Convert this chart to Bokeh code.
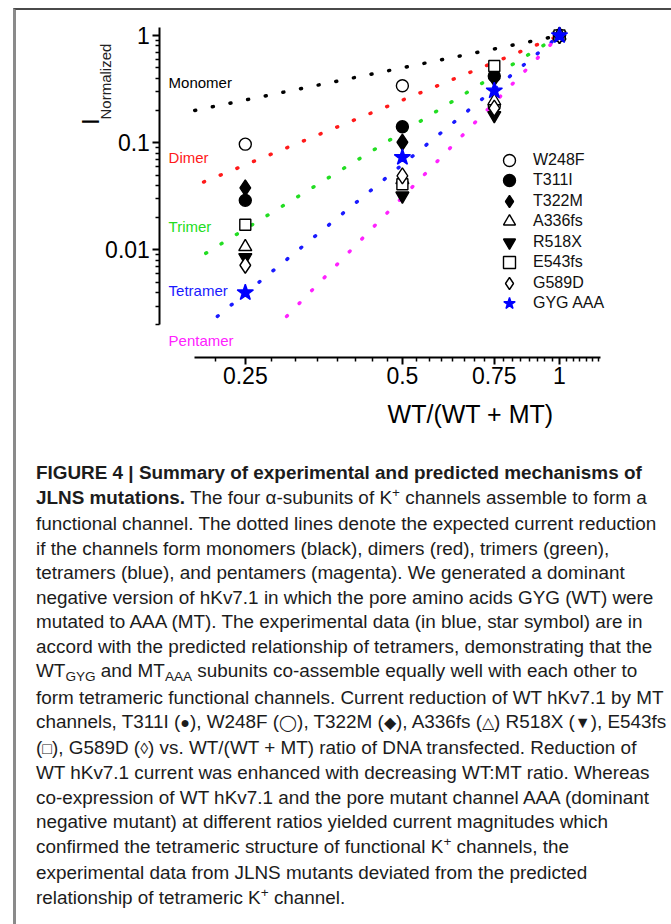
import math
from bokeh.plotting import figure
from bokeh.models import Range1d, FixedTicker, Label, Legend, LegendItem, Div
from bokeh.layouts import column
from bokeh.embed import file_html
from bokeh.resources import INLINE

# ---------------- data ----------------
ratio = [0.25, 0.5, 0.75, 1.0]

W248F = [0.097, 0.34, 0.22, 1.0]
T311I = [0.029, 0.141, 0.42, 1.0]
T322M = [0.038, 0.101, 0.40, 1.0]
A336fs = [0.0107, 0.045, 0.245, 1.0]
R518X = [0.0085, 0.032, 0.18, 1.0]
E543fs = [0.0172, 0.041, 0.52, 1.0]
G589D = [0.0072, 0.049, 0.21, 1.0]
GYG_AAA = [0.0040, 0.073, 0.305, 1.0]

series_names = ["W248F", "T311I", "T322M", "A336fs", "R518X", "E543fs", "G589D", "GYG AAA"]
series_values = [W248F, T311I, T322M, A336fs, R518X, E543fs, G589D, GYG_AAA]

# predicted relationships: dotted lines from a start point to (1, 1)
model_names = ["Monomer", "Dimer", "Trimer", "Tetramer", "Pentamer"]
model_x_start = [0.20, 0.208, 0.21, 0.221, 0.30]
model_y_start = [0.20, 0.043, 0.0093, 0.0024, 0.0024]
model_x_end = [1.0, 1.0, 1.0, 1.0, 1.0]
model_y_end = [1.0, 1.0, 1.0, 1.0, 1.0]

x_tick_values = [0.25, 0.5, 0.75, 1.0]
x_tick_labels = ["0.25", "0.5", "0.75", "1"]
y_tick_values = [0.01, 0.1, 1.0]
y_tick_labels = ["0.01", "0.1", "1"]

# ---------------- styles / layout ----------------
FONT = "Liberation Sans"
model_colors = ["#000000", "#ff1a1a", "#22dd22", "#1a1aff", "#ff22ff"]
# (marker, size, fill, line)
marker_specs = [
    ("circle", 12, "white", "black"),
    ("circle", 12, "black", "black"),
    ("diamond", 16, "black", "black"),
    ("triangle", 13, "white", "black"),
    ("inverted_triangle", 13, "black", "black"),
    ("square", 11, "white", "black"),
    ("diamond", 16, "white", "black"),
    ("star", 17, "#0000ff", "#0000ff"),
]
model_label_x = 0.1782
model_label_y = [0.3643, 0.0728, 0.01653, 0.00418, 0.001428]

FIG_W, FIG_H = 654, 420

# the frame covers the whole canvas; the axes sit at fixed data locations
p = figure(
    width=FIG_W, height=FIG_H,
    x_axis_type="log", y_axis_type="log",
    x_range=Range1d(0.0911, 1.632), y_range=Range1d(0.000207, 1.711),
    output_backend="svg", toolbar_location=None, min_border=0,
)
p.min_border_left = 0
p.min_border_right = 0
p.min_border_top = 0
p.min_border_bottom = 0
p.grid.visible = False
p.outline_line_color = None
p.background_fill_color = "white"
p.border_fill_color = "white"

x_minor = [k / 32 for k in range(7, 39) if k % 8]
y_minor = [m * 10.0 ** e for e in (-3, -2, -1) for m in range(2, 10)]

p.xaxis.ticker = FixedTicker(ticks=x_tick_values, minor_ticks=x_minor)
p.yaxis.ticker = FixedTicker(ticks=y_tick_values, minor_ticks=y_minor)
p.xaxis.major_label_overrides = dict(zip(x_tick_values, x_tick_labels))
p.yaxis.major_label_overrides = dict(zip(y_tick_values, y_tick_labels))
p.xaxis.bounds = (0.2, 1.2)
p.yaxis.bounds = (0.002, 1.19)
p.xaxis.fixed_location = 0.001
p.yaxis.fixed_location = 0.1715

for ax in (p.xaxis, p.yaxis):
    ax.axis_line_width = 2
    ax.axis_line_color = "black"
    ax.major_tick_line_width = 2
    ax.minor_tick_line_width = 1.5
    ax.major_tick_line_color = "black"
    ax.minor_tick_line_color = "black"
    ax.major_tick_in = 0
    ax.major_tick_out = 7
    ax.minor_tick_in = 0
    ax.minor_tick_out = 4
    ax.major_label_text_font = FONT
    ax.major_label_text_font_size = "23px"
    ax.major_label_text_color = "black"
p.xaxis.major_label_standoff = 3
p.yaxis.major_label_standoff = 3

# dotted predicted lines
for i, name in enumerate(model_names):
    p.line(
        x=[model_x_start[i], model_x_end[i]],
        y=[model_y_start[i], model_y_end[i]],
        line_color=model_colors[i], line_width=3.5,
        line_dash="1 17", line_cap="round",
    )
    p.add_layout(Label(
        x=model_label_x, y=model_label_y[i], text=name,
        text_color=model_colors[i], text_font=FONT,
        text_font_size="15px", text_baseline="middle", text_align="left",
    ))

# experimental data
items = []
for name, vals, (mk, sz, fc, lc) in zip(series_names, series_values, marker_specs):
    r = p.scatter(
        x=ratio, y=vals, marker=mk, size=sz,
        fill_color=fc, line_color=lc, line_width=1.4,
    )
    items.append(LegendItem(label=name, renderers=[r]))

# two interleaved legends (odd / even rows) give a 20.5 px row pitch
legend_common = dict(
    orientation="vertical",
    glyph_width=30, glyph_height=30, label_height=30, spacing=11,
    padding=0, margin=0, label_standoff=9,
    border_line_color=None, background_fill_alpha=0,
    label_text_font=FONT, label_text_font_size="16px", label_text_color="#111111",
)
p.add_layout(Legend(items=items[0::2], location=(478, 132.5), **legend_common))
p.add_layout(Legend(items=items[1::2], location=(478, 112), **legend_common))

# axis titles
p.add_layout(Label(
    x=0.6755, y=0.000298, text="WT/(WT + MT)", text_font=FONT,
    text_font_size="25px", text_align="center", text_baseline="middle",
    text_color="black",
))
p.add_layout(Label(
    x=0.1263, y=0.1570, text="I", angle=math.pi / 2, text_font=FONT,
    text_font_size="24px", text_align="center", text_baseline="middle",
    text_color="black",
))
p.add_layout(Label(
    x=0.1349, y=0.3720, text="Normalized", angle=math.pi / 2, text_font=FONT,
    text_font_size="15px", text_align="center", text_baseline="middle",
    text_color="#222222",
))

# ---------------- caption ----------------
sup = '<span style="position:relative;top:-0.45em;font-size:72%;">+</span>'
def sub(t):
    return '<span style="position:relative;top:0.3em;font-size:72%;">' + t + '</span>'
def sym(code):
    return '<span style="font-size:16px;">&#' + str(code) + ';</span>'

caption_lines = [
    "<b>FIGURE 4 | Summary of experimental and predicted mechanisms of</b>",
    "<b>JLNS mutations.</b> The four &alpha;-subunits of K" + sup + " channels assemble to form a",
    "functional channel. The dotted lines denote the expected current reduction",
    "if the channels form monomers (black), dimers (red), trimers (green),",
    "tetramers (blue), and pentamers (magenta). We generated a dominant",
    "negative version of hKv7.1 in which the pore amino acids GYG (WT) were",
    "mutated to AAA (MT). The experimental data (in blue, star symbol) are in",
    "accord with the predicted relationship of tetramers, demonstrating that the",
    "WT" + sub("GYG") + " and MT" + sub("AAA") + " subunits co-assemble equally well with each other to",
    "form tetrameric functional channels. Current reduction of WT hKv7.1 by MT",
    "channels, T311I (" + sym(9679) + "), W248F (" + sym(9711) + "), T322M (" + sym(9670)
    + "), A336fs (" + sym(9651) + ") R518X (" + sym(9660) + "), E543fs",
    "(" + sym(9633) + "), G589D (" + sym(9674) + ") vs. WT/(WT + MT) ratio of DNA transfected. Reduction of",
    "WT hKv7.1 current was enhanced with decreasing WT:MT ratio. Whereas",
    "co-expression of WT hKv7.1 and the pore mutant channel AAA (dominant",
    "negative mutant) at different ratios yielded current magnitudes which",
    "confirmed the tetrameric structure of functional K" + sup + " channels, the",
    "experimental data from JLNS mutants deviated from the predicted",
    "relationship of tetrameric K" + sup + " channel.",
]
html = (
    '<div style="font-family:\'Liberation Sans\',Arial,sans-serif;font-size:18.9px;'
    'line-height:24.5px;color:#1c1c1c;white-space:nowrap;padding:26px 0 0 15px;">'
    + "<br>".join(caption_lines) + "</div>"
)
div = Div(text=html, width=FIG_W, height=490)

layout = column(
    p, div,
    styles={"border-left": "3px solid #8a8a8a", "border-top": "2px solid #4a4a4a",
            "margin-left": "13px", "margin-top": "8px", "background-color": "white"},
)

open("out.html", "w").write(file_html(layout, INLINE))
